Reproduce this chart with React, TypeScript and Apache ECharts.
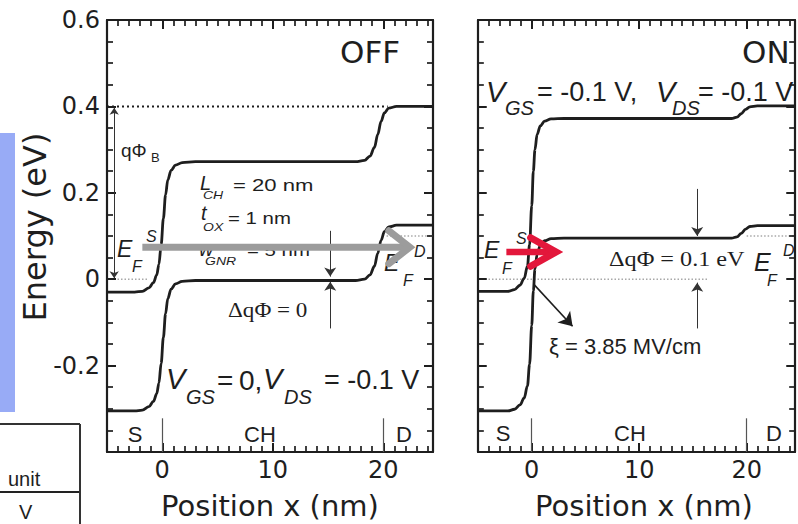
import React, { useEffect, useRef } from "react";
import * as echarts from "echarts";

// ---------- data ----------
// OFF state: V_GS = 0, V_DS = -0.1 V
const positionOff = [-5, -2.5, -1.8, -1.2, -0.8, -0.5, -0.3, -0.1, 0.1, 0.3, 0.5, 0.8, 1.2, 1.8, 3, 17.5, 18.3, 18.8, 19.2, 19.5, 19.8, 20.1, 20.5, 21.2, 24.5];
const upperBandOff = [-0.03, -0.03, -0.028, -0.02, -0.008, 0.01, 0.035, 0.08, 0.14, 0.195, 0.23, 0.252, 0.264, 0.27, 0.272, 0.272, 0.275, 0.285, 0.305, 0.335, 0.365, 0.385, 0.396, 0.4, 0.4];
const lowerBandOff = [-0.305, -0.305, -0.303, -0.295, -0.283, -0.265, -0.24, -0.195, -0.135, -0.08, -0.045, -0.023, -0.011, -0.005, -0.003, -0.003, 0.0, 0.01, 0.03, 0.06, 0.09, 0.11, 0.121, 0.125, 0.125];

// ON state: V_GS = -0.1 V, V_DS = -0.1 V
const positionOn = [-5, -2.2, -1.6, -1.1, -0.7, -0.4, -0.2, 0, 0.15, 0.3, 0.5, 0.8, 1.2, 1.8, 3, 18.6, 19.1, 19.5, 19.9, 20.3, 21, 24.5];
const upperBandOn = [-0.028, -0.028, -0.024, -0.014, 0.002, 0.03, 0.08, 0.17, 0.25, 0.3, 0.335, 0.355, 0.366, 0.371, 0.372, 0.372, 0.375, 0.383, 0.393, 0.399, 0.401, 0.401];
const lowerBandOn = [-0.305, -0.305, -0.301, -0.291, -0.275, -0.247, -0.197, -0.107, -0.027, 0.023, 0.058, 0.078, 0.089, 0.094, 0.095, 0.095, 0.098, 0.106, 0.116, 0.122, 0.124, 0.124];

// reference levels
const barrierLevel = 0.4; // qPhi_B
const fermiSource = 0;
const fermiDrain = 0.1;

// tick labels and tick mark positions
const xTickLabels = [0, 10, 20];
const yTickLabels = [-0.2, 0, 0.2, 0.4, 0.6];
const xTickPositions = [-4, -3, -2, -1, 0, 1, 2, 3, 4, 5, 6, 7, 8, 9, 10, 11, 12, 13, 14, 15, 16, 17, 18, 19, 20, 21, 22, 23, 24];
const xMajorTicks = [0, 10, 20];
const yTickPositions = [-0.35, -0.3, -0.25, -0.2, -0.15, -0.1, -0.05, 0, 0.05, 0.1, 0.15, 0.2, 0.25, 0.3, 0.35, 0.4, 0.45, 0.5, 0.55];
const yMajorTicks = [-0.2, 0, 0.2, 0.4];

// annotation arrows (data coordinates)
const grayArrowShaft = [[-1.8, 0.074], [22.0, 0.074]];
const grayArrowHead = [[20.5, 0.112], [22.4, 0.074], [20.5, 0.036]];
const redArrowShaft = [[-2.36, 0.063], [1.9, 0.063]];
const redArrowHead = [[-0.1, 0.096], [2.27, 0.063], [-0.1, 0.03]];

const pairs = (xs: number[], ys: number[]) => xs.map((x, i) => [x, ys[i]]);

const INK = "#1e1e1e";
const SANS = '"Liberation Sans", Arial, sans-serif';
const DEJA = '"DejaVu Sans", sans-serif';
const SERIF = '"Liberation Serif", "Times New Roman", serif';
const X_MIN = -5;
const X_MAX = 24.5;
const Y_MIN = -0.4;
const Y_MAX = 0.6;
const GRID_W = 326;
const GRID_H = 432;

const xAxisCfg = (gridIndex: number, position: string, showLabel: boolean) => ({
  type: "value",
  gridIndex,
  position,
  min: X_MIN,
  max: X_MAX,
  interval: 5,
  axisLine: { show: true, onZero: false, lineStyle: { color: INK, width: 2.2 } },
  axisTick: { show: false },
  splitLine: { show: false },
  axisLabel: {
    show: showLabel,
    margin: 6,
    fontSize: 24,
    fontFamily: DEJA,
    color: INK,
    formatter: (v: number) => (xTickLabels.includes(Math.round(v)) && Math.abs(v - Math.round(v)) < 1e-6 ? String(Math.round(v)) : ""),
  },
});

const yAxisCfg = (gridIndex: number, position: string, showLabel: boolean) => ({
  type: "value",
  gridIndex,
  position,
  min: Y_MIN,
  max: Y_MAX,
  interval: 0.2,
  axisLine: { show: true, onZero: false, lineStyle: { color: INK, width: 2.2 } },
  axisTick: { show: false },
  splitLine: { show: false },
  axisLabel: {
    show: showLabel,
    margin: 7,
    fontSize: 24,
    fontFamily: DEJA,
    color: INK,
    formatter: (v: number) => {
      const r = Math.round(v * 10) / 10;
      if (!yTickLabels.includes(r)) return "";
      return r === 0 ? "0" : r.toFixed(1);
    },
  },
});

const txt = (text: string, x: number, y: number, size: number, o: any = {}) => ({
  type: "text",
  x,
  y,
  z: 1,
  scaleX: o.sx ?? 1,
  rotation: o.rot ?? 0,
  style: {
    text,
    fontSize: size,
    fontFamily: o.family ?? SANS,
    fontStyle: o.italic ? "italic" : "normal",
    fill: o.color ?? INK,
    align: o.align ?? "left",
    verticalAlign: "middle",
  },
});

const arrow = (a: number[], b: number[], size = 8) => [
  { coord: a, symbol: "none" },
  { coord: b, symbol: "arrow", symbolSize: size },
];
const doubleArrow = (a: number[], b: number[], size = 8) => [
  { coord: a, symbol: "arrow", symbolSize: size },
  { coord: b, symbol: "arrow", symbolSize: size },
];
const plain = (a: number[], b: number[]) => [
  { coord: a, symbol: "none" },
  { coord: b, symbol: "none" },
];

// inward frame ticks as short mark-line segments in data coordinates
const tickSegments = () => {
  const d: any[] = [];
  const yPerPx = (Y_MAX - Y_MIN) / GRID_H;
  const xPerPx = (X_MAX - X_MIN) / GRID_W;
  xTickPositions.forEach((v) => {
    const major = xMajorTicks.includes(v);
    const dy = (major ? 9 : 6) * yPerPx;
    const w = major ? 2 : 1.7;
    d.push([{ coord: [v, Y_MIN], symbol: "none", lineStyle: { width: w } }, { coord: [v, Y_MIN + dy], symbol: "none" }]);
    d.push([{ coord: [v, Y_MAX], symbol: "none", lineStyle: { width: w } }, { coord: [v, Y_MAX - dy], symbol: "none" }]);
  });
  yTickPositions.forEach((v) => {
    const major = yMajorTicks.includes(v);
    const dx = (major ? 9 : 6) * xPerPx;
    const w = major ? 2 : 1.7;
    d.push([{ coord: [X_MIN, v], symbol: "none", lineStyle: { width: w } }, { coord: [X_MIN + dx, v], symbol: "none" }]);
    d.push([{ coord: [X_MAX, v], symbol: "none", lineStyle: { width: w } }, { coord: [X_MAX - dx, v], symbol: "none" }]);
  });
  return d;
};

const bandStyle = { color: INK, width: 2.8 };

const dotted = (name: string, data: number[][], xi: number, color: string, width: number, dash: number[]) => ({
  name,
  type: "line",
  xAxisIndex: xi,
  yAxisIndex: xi,
  data,
  showSymbol: false,
  symbol: "none",
  silent: true,
  lineStyle: { color, width, type: dash },
  z: 1,
});

export default function App() {
  const ref = useRef<HTMLDivElement>(null);

  useEffect(() => {
    if (!ref.current) return;
    const chart = echarts.init(ref.current, undefined, { renderer: "svg" });

    const markLineBase = {
      silent: true,
      label: { show: false },
      emphasis: { disabled: true },
      animation: false,
    };

    const tickHolder = (ai: number) => ({
      name: "frame ticks " + ai,
      type: "line",
      xAxisIndex: ai,
      yAxisIndex: ai,
      data: [[X_MIN, Y_MIN], [X_MAX, Y_MIN]],
      showSymbol: false,
      symbol: "none",
      silent: true,
      z: 4,
      lineStyle: { opacity: 0 },
      markLine: {
        ...markLineBase,
        symbol: ["none", "none"],
        lineStyle: { color: INK, width: 1.8, type: "solid" },
        data: tickSegments(),
      },
    });

    const option: any = {
      animation: false,
      grid: [
        { left: 107, top: 20, width: GRID_W, height: GRID_H },
        { left: 478, top: 20, width: 325, height: GRID_H },
      ],
      xAxis: [
        xAxisCfg(0, "bottom", true),
        xAxisCfg(0, "top", false),
        xAxisCfg(1, "bottom", true),
        xAxisCfg(1, "top", false),
      ],
      yAxis: [
        yAxisCfg(0, "left", true),
        yAxisCfg(0, "right", false),
        yAxisCfg(1, "left", false),
        yAxisCfg(1, "right", false),
      ],
      series: [
        tickHolder(0),
        tickHolder(2),
        // ---------- OFF panel ----------
        dotted("qPhiB level", [[-5, barrierLevel], [20.4, barrierLevel]], 0, INK, 2, [2, 3]),
        dotted("EF source OFF", [[-5, fermiSource], [-1.2, fermiSource]], 0, "#a8a8a8", 1.5, [1.5, 2]),
        dotted("EF drain OFF", [[20.3, fermiDrain], [24.5, fermiDrain]], 0, "#a8a8a8", 1.5, [1.5, 2]),
        {
          name: "upper OFF",
          type: "line",
          xAxisIndex: 0,
          yAxisIndex: 0,
          data: pairs(positionOff, upperBandOff),
          showSymbol: false,
          symbol: "none",
          smooth: 0.35,
          smoothMonotone: "x",
          lineStyle: bandStyle,
          markLine: {
            ...markLineBase,
            lineStyle: { color: "#333", width: 1, type: "solid" },
            data: [
              doubleArrow([-4.35, barrierLevel - 0.003], [-4.35, fermiSource + 0.002], 7),
              arrow([15.2, 0.112], [15.2, 0.006], 9),
              arrow([15.2, -0.114], [15.2, -0.006], 9),
            ],
          },
        },
        {
          name: "lower OFF",
          type: "line",
          xAxisIndex: 0,
          yAxisIndex: 0,
          data: pairs(positionOff, lowerBandOff),
          showSymbol: false,
          symbol: "none",
          smooth: 0.35,
          smoothMonotone: "x",
          lineStyle: bandStyle,
          markLine: {
            ...markLineBase,
            lineStyle: { color: "#555", width: 1.2, type: "solid" },
            data: [plain([0, -0.4], [0, -0.322]), plain([20, -0.4], [20, -0.322])],
          },
        },
        {
          name: "gray arrow shaft",
          type: "line",
          xAxisIndex: 0,
          yAxisIndex: 0,
          data: grayArrowShaft,
          showSymbol: false,
          symbol: "none",
          silent: true,
          z: 6,
          lineStyle: { color: "#9c9c9c", width: 7, cap: "butt" },
        },
        {
          name: "gray arrow head",
          type: "line",
          xAxisIndex: 0,
          yAxisIndex: 0,
          data: grayArrowHead,
          showSymbol: false,
          symbol: "none",
          silent: true,
          z: 6,
          lineStyle: { color: "#9c9c9c", width: 7, cap: "round", join: "miter" },
        },
        // ---------- ON panel ----------
        dotted("EF source ON", [[-5, fermiSource], [16.4, fermiSource]], 2, "#a8a8a8", 1.5, [1.5, 2]),
        dotted("EF drain ON", [[20, fermiDrain], [24.5, fermiDrain]], 2, "#a8a8a8", 1.5, [1.5, 2]),
        {
          name: "upper ON",
          type: "line",
          xAxisIndex: 2,
          yAxisIndex: 2,
          data: pairs(positionOn, upperBandOn),
          showSymbol: false,
          symbol: "none",
          smooth: 0.35,
          smoothMonotone: "x",
          lineStyle: bandStyle,
          markLine: {
            ...markLineBase,
            lineStyle: { color: "#333", width: 1, type: "solid" },
            data: [arrow([15.4, 0.209], [15.4, 0.1], 9), arrow([15.4, -0.114], [15.4, -0.008], 9)],
          },
        },
        {
          name: "lower ON",
          type: "line",
          xAxisIndex: 2,
          yAxisIndex: 2,
          data: pairs(positionOn, lowerBandOn),
          showSymbol: false,
          symbol: "none",
          smooth: 0.35,
          smoothMonotone: "x",
          lineStyle: bandStyle,
          markLine: {
            ...markLineBase,
            lineStyle: { color: "#555", width: 1.2, type: "solid" },
            data: [plain([0, -0.4], [0, -0.322]), plain([20, -0.4], [20, -0.322])],
          },
        },
        {
          name: "field arrow",
          type: "line",
          xAxisIndex: 2,
          yAxisIndex: 2,
          data: [[0.2, -0.012], [3.8, -0.109]],
          showSymbol: false,
          symbol: "none",
          lineStyle: { opacity: 0 },
          markLine: {
            ...markLineBase,
            lineStyle: { color: INK, width: 1.6, type: "solid" },
            data: [arrow([0.2, -0.012], [3.8, -0.109], 13)],
          },
        },
        {
          name: "red arrow shaft",
          type: "line",
          xAxisIndex: 2,
          yAxisIndex: 2,
          data: redArrowShaft,
          showSymbol: false,
          symbol: "none",
          silent: true,
          z: 6,
          lineStyle: { color: "#e3173b", width: 6.5, cap: "butt" },
        },
        {
          name: "red arrow head",
          type: "line",
          xAxisIndex: 2,
          yAxisIndex: 2,
          data: redArrowHead,
          showSymbol: false,
          symbol: "none",
          silent: true,
          z: 6,
          lineStyle: { color: "#e3173b", width: 7, cap: "round", join: "miter" },
        },
      ],
      graphic: [
        // left decoration: blue block and table fragment
        { type: "rect", z: 0, shape: { x: 0, y: 133, width: 15, height: 279 }, style: { fill: "#98abf6" } },
        { type: "line", z: 0, shape: { x1: 0, y1: 424, x2: 80, y2: 424 }, style: { stroke: "#333", lineWidth: 2 } },
        { type: "line", z: 0, shape: { x1: 0, y1: 492, x2: 80, y2: 492 }, style: { stroke: "#222", lineWidth: 2.2 } },
        { type: "line", z: 0, shape: { x1: 80, y1: 424, x2: 80, y2: 524 }, style: { stroke: "#333", lineWidth: 2 } },
        txt("unit", 8, 479, 20),
        txt("V", 19, 512, 20),

        // axis titles
        txt("Energy (eV)", 35, 227, 32, { family: DEJA, rot: Math.PI / 2, align: "center" }),
        txt("Position x (nm)", 270, 506, 29, { family: DEJA, align: "center" }),
        txt("Position x (nm)", 644, 506, 29, { family: DEJA, align: "center" }),

        // ---- OFF panel annotations ----
        txt("OFF", 340, 52, 31, { family: DEJA }),
        txt("qΦ", 121, 150, 19),
        txt("B", 151, 157, 13),
        txt("L", 200, 183, 20, { italic: true }),
        txt("CH", 203, 196, 10, { italic: true, sx: 1.4 }),
        txt("= 20 nm", 233, 185, 17, { sx: 1.3 }),
        txt("t", 201, 213, 20, { italic: true }),
        txt("OX", 203, 228, 10, { italic: true, sx: 1.4 }),
        txt("= 1 nm", 228, 218, 17, { sx: 1.2 }),
        txt("w", 199, 249, 20, { italic: true }),
        txt("GNR", 205, 262, 10, { italic: true, sx: 1.4 }),
        txt("= 5 nm", 247, 250, 17, { sx: 1.2 }),
        txt("E", 117, 249, 23, { italic: true }),
        txt("S", 146, 236, 16, { italic: true }),
        txt("F", 132, 266, 16, { italic: true }),
        txt("E", 384, 263, 23, { italic: true }),
        txt("D", 414, 251, 16, { italic: true }),
        txt("F", 403, 280, 16, { italic: true }),
        txt("ΔqΦ = 0", 228, 310, 21, { family: SERIF, sx: 1.1 }),
        txt("V", 166, 379, 29, { italic: true }),
        txt("GS", 186, 397, 20, { italic: true }),
        txt("=", 217, 380, 28),
        txt("0,", 239, 380, 28),
        txt("V", 263, 379, 29, { italic: true }),
        txt("DS", 284, 397, 20, { italic: true }),
        txt("= -0.1 V", 324, 380, 27),
        txt("S", 135, 434, 22, { align: "center" }),
        txt("CH", 260, 434, 22, { align: "center" }),
        txt("D", 404, 434, 22, { align: "center" }),

        // ---- ON panel annotations ----
        txt("ON", 742, 52, 31, { family: DEJA }),
        txt("V", 486, 92, 29, { italic: true }),
        txt("GS", 505, 108, 20, { italic: true }),
        txt("= -0.1 V,", 537, 92, 27),
        txt("V", 656, 92, 29, { italic: true }),
        txt("DS", 672, 108, 20, { italic: true }),
        txt("= -0.1 V", 698, 92, 27),
        txt("E", 484, 250, 23, { italic: true }),
        txt("S", 516, 238, 16, { italic: true }),
        txt("F", 502, 268, 16, { italic: true }),
        txt("ΔqΦ = 0.1 eV", 609, 258, 22, { family: SERIF, sx: 1.1 }),
        txt("E", 754, 262, 25, { italic: true }),
        txt("D", 783, 250, 16, { italic: true }),
        txt("F", 767, 280, 16, { italic: true }),
        txt("ξ = 3.85 MV/cm", 549, 346, 22),
        txt("S", 503, 433, 22, { align: "center" }),
        txt("CH", 630, 433, 22, { align: "center" }),
        txt("D", 774, 433, 22, { align: "center" }),
      ],
    };

    chart.setOption(option);
    return () => chart.dispose();
  }, []);

  return (
    <div
      ref={ref}
      style={{ position: "absolute", left: 0, top: 0, width: 798, height: 524 }}
    />
  );
}
